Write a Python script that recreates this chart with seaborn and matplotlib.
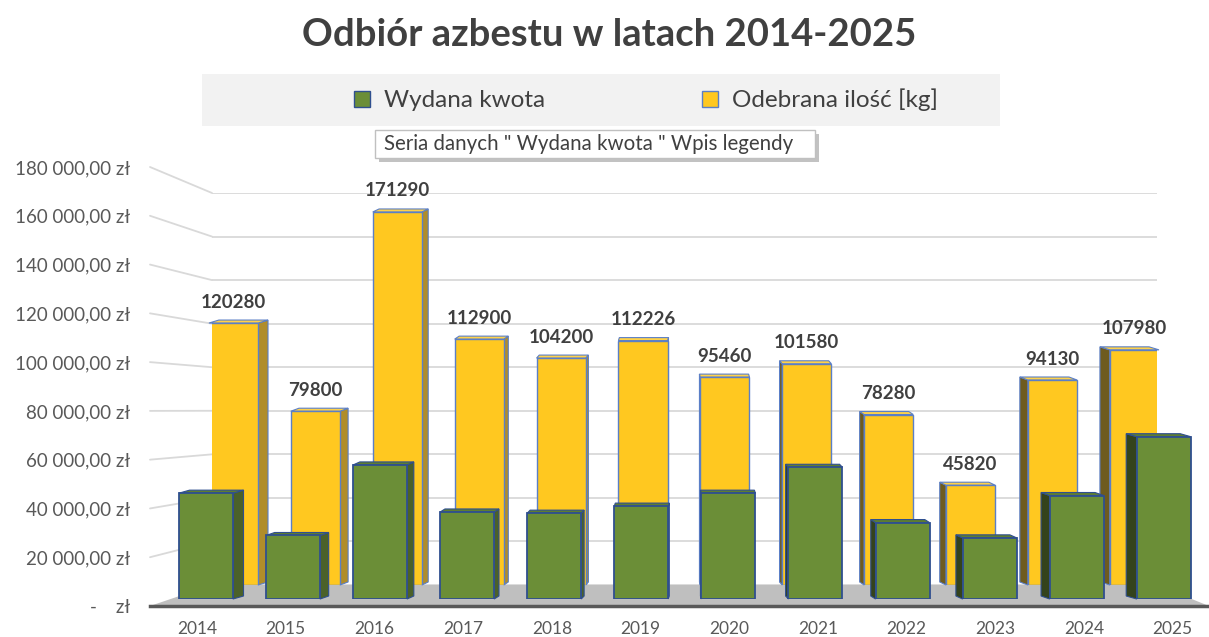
import pandas as pd
import matplotlib
matplotlib.use('Agg')
import matplotlib.pyplot as plt
from matplotlib.patches import Polygon, Rectangle
from matplotlib.lines import Line2D
from matplotlib.transforms import IdentityTransform
import seaborn as sns

# --- Data ---
years = ['2014', '2015', '2016', '2017', '2018', '2019',
         '2020', '2021', '2022', '2023', '2024', '2025']
wydana_kwota = [45000, 27000, 57000, 37000, 36500, 39500,
                45000, 56000, 32500, 26000, 44000, 69000]
odebrana_ilosc = [120280, 79800, 171290, 112900, 104200, 112226,
                  95460, 101580, 78280, 45820, 94130, 107980]
y_ticks = [0, 20000, 40000, 60000, 80000, 100000, 120000, 140000, 160000, 180000]

TITLE = 'Odbiór azbestu w latach 2014-2025'
LEGEND_LABELS = ['Wydana kwota', 'Odebrana ilość [kg]']
TOOLTIP = 'Seria danych " Wydana kwota " Wpis legendy'

# --- Style ---
W, H = 1209, 637
YELLOW, YELLOW_EDGE = '#FFC820', '#5B7FC7'
GREEN, GREEN_EDGE = '#6B8E37', '#2F4F8F'
TEXT = '#404040'
GRID = '#D9D9D9'

sns.set_theme(style='white')
plt.rcParams['font.family'] = ['Lato', 'DejaVu Sans']


def rect(x0, y0, x1, y1):
    # pixel box measured from top-left -> figure fraction
    return [x0 / W, 1 - y1 / H, (x1 - x0) / W, (y1 - y0) / H]


def zl(v):
    if v == 0:
        return '-    zł'
    return f'{v:,.2f}'.replace(',', ' ').replace('.', ',') + ' zł'


df = pd.DataFrame({'rok': years, 'kwota': wydana_kwota, 'ilosc': odebrana_ilosc})

fig = plt.figure(figsize=(W / 100, H / 100), dpi=100)
fig.patch.set_facecolor('white')

# back wall (yellow series), middle row (green series), front frame (axis labels)
ax_back = fig.add_axes(rect(212, 193, 1157, 585))
ax_mid = fig.add_axes(rect(150, 175.6, 1209, 599))
ax_front = fig.add_axes(rect(150, 167, 1209, 606))

sns.barplot(data=df, x='rok', y='ilosc', ax=ax_back, color=YELLOW, saturation=1,
            width=0.6, edgecolor=YELLOW_EDGE, linewidth=1)
sns.barplot(data=df, x='rok', y='kwota', ax=ax_mid, color=GREEN, saturation=1,
            width=0.62, edgecolor=GREEN_EDGE, linewidth=1.3)

ax_back.set_xlim(-0.2625, 11.276)
ax_mid.set_xlim(-0.643, 11.52)
ax_front.set_xlim(-0.53, 11.41)
for ax in (ax_back, ax_mid, ax_front):
    ax.set_ylim(0, 180000)
    ax.set_xlabel('')
    ax.set_ylabel('')
    ax.patch.set_visible(False)
    for s in ax.spines.values():
        s.set_visible(False)

# back wall grid
ax_back.set_yticks(y_ticks)
ax_back.set_yticklabels([])
ax_back.set_xticks([])
ax_back.tick_params(length=0)
ax_back.grid(axis='y', color=GRID, lw=1.3)
ax_back.set_axisbelow(True)

ax_mid.set_xticks([])
ax_mid.set_yticks([])

# front frame: labels and floor edge
ax_front.set_xticks(range(len(years)), years)
ax_front.set_yticks(y_ticks, [zl(v) for v in y_ticks])
ax_front.tick_params(axis='x', length=0, labelsize=12.5, labelcolor='#595959', pad=11)
ax_front.tick_params(axis='y', length=0, labelsize=13.5, labelcolor='#595959', pad=14)
ax_front.spines['bottom'].set_visible(True)
ax_front.spines['bottom'].set_color('#595959')
ax_front.spines['bottom'].set_linewidth(2.5)

# pseudo 3D depth faces
VP = 685  # vanishing point x in pixels


def add_depth(ax, right_col, left_col, top_col, edge):
    for bar in list(ax.containers[0]):
        (x0, y0), (x1, y1) = ax.transData.transform(
            [(bar.get_x(), 0), (bar.get_x() + bar.get_width(), bar.get_height())])
        d = 0.022 * (VP - (x0 + x1) / 2)
        u = 3
        xs = x1 if d >= 0 else x0
        col = right_col if d >= 0 else left_col
        side = Polygon([(xs, y0), (xs + d, y0 + u), (xs + d, y1 + u), (xs, y1)],
                       transform=IdentityTransform(), facecolor=col, edgecolor=edge,
                       lw=0.8, clip_on=False, zorder=0.9)
        top = Polygon([(x0, y1), (x1, y1), (x1 + d, y1 + u), (x0 + d, y1 + u)],
                      transform=IdentityTransform(), facecolor=top_col, edgecolor=edge,
                      lw=0.8, clip_on=False, zorder=0.9)
        ax.add_artist(side)
        ax.add_artist(top)


add_depth(ax_back, '#B08D2A', '#6E5B1F', '#FFD24A', YELLOW_EDGE)
add_depth(ax_mid, '#4B6129', '#34431C', '#5E7E30', GREEN_EDGE)

# slanted side-wall gridlines and floor
fx0, fx1 = ax_front.get_xlim()
bx0, bx1 = ax_back.get_xlim()
for v in y_ticks[1:]:
    p1 = ax_front.transData.transform((fx0, v))
    p2 = ax_back.transData.transform((bx0, v))
    ax_back.add_artist(Line2D([p1[0], p2[0]], [p1[1], p2[1]], transform=IdentityTransform(),
                              color=GRID, lw=1.3, clip_on=False, zorder=0.5))
floor = [ax_front.transData.transform((fx0, 0)), ax_back.transData.transform((bx0, 0)),
         ax_back.transData.transform((bx1, 0)), ax_front.transData.transform((fx1, 0))]
ax_back.add_artist(Polygon(floor, closed=True, transform=IdentityTransform(),
                           facecolor='#BFBFBF', edgecolor='none', clip_on=False, zorder=0.6))

# value labels on yellow bars
ax_back.bar_label(ax_back.containers[0], labels=[str(v) for v in odebrana_ilosc],
                  padding=9, fontsize=13.5, fontweight='bold', color=TEXT)

# title
fig.text(609 / W, 1 - 35 / H, TITLE, ha='center', va='center',
         fontsize=27.5, fontweight='bold', color=TEXT)

# legend band
fig.add_artist(Rectangle((202 / W, 1 - 126 / H), 798 / W, 52 / H,
                         transform=fig.transFigure, facecolor='#F2F2F2', edgecolor='none', zorder=1))
handles = [Line2D([], [], ls='none', marker='s', markersize=12, markerfacecolor=GREEN,
                  markeredgecolor=GREEN_EDGE),
           Line2D([], [], ls='none', marker='s', markersize=11, markerfacecolor=YELLOW,
                  markeredgecolor=YELLOW_EDGE)]
leg = fig.legend(handles, LEGEND_LABELS, loc='center', bbox_to_anchor=(644 / W, 1 - 100 / H),
                 ncol=2, frameon=False, fontsize=17.5, handletextpad=0.4, columnspacing=6.3,
                 handlelength=1.0)
for t in leg.get_texts():
    t.set_color(TEXT)

# tooltip
fig.add_artist(Rectangle((379 / W, 1 - 162 / H), 440 / W, 28 / H, transform=fig.transFigure,
                         facecolor='#9A9A9A', edgecolor='none', alpha=0.6, zorder=6))
fig.add_artist(Rectangle((375 / W, 1 - 158 / H), 440 / W, 28 / H, transform=fig.transFigure,
                         facecolor='white', edgecolor='#C0C0C0', lw=1, zorder=7))
fig.text(384 / W, 1 - 144 / H, TOOLTIP, ha='left', va='center', fontsize=14.8,
         color=TEXT, zorder=8)

fig.savefig('out.png', dpi=100)
